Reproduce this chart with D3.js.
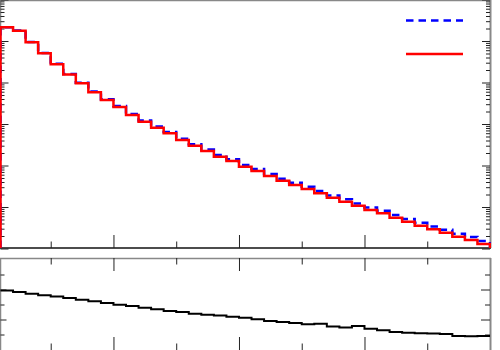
<!DOCTYPE html>
<html>
<head>
<meta charset="utf-8">
<script src="https://cdn.jsdelivr.net/npm/d3@7"></script>
<style>
  body { margin: 0; background: #fff; }
  svg { display: block; }
</style>
</head>
<body>
<div id="chart"></div>
<script>
// bin contents, 39 bins
const redCounts = [214000, 177000, 93100, 50600, 27500, 15600, 9570, 5800, 3790, 2570,
  1650, 1136, 815, 597, 411, 300, 223, 163, 128, 93.5,
  73.7, 55.8, 43.0, 33.9, 27.1, 21.4, 16.7, 13.4, 10.7, 8.47,
  7.05, 5.52, 4.42, 3.54, 2.90, 2.40, 1.92, 1.60, 1.28]
const blueCounts = [215000, 178400, 94400, 51600, 28150, 16050, 9900, 6035, 3970, 2710,
  1746, 1210, 873, 643, 444, 326, 243, 178.5, 140.8, 103.2,
  81.8, 62.3, 48.2, 38.2, 30.7, 24.2, 19.0, 15.3, 12.2, 9.75,
  8.16, 6.43, 5.16, 4.15, 3.40, 2.82, 2.27, 1.90, 1.51]
const ratio = [0.997, 0.992, 0.986, 0.981, 0.977, 0.972, 0.966, 0.961, 0.955, 0.949,
  0.945, 0.939, 0.934, 0.928, 0.925, 0.919, 0.916, 0.913, 0.909, 0.906,
  0.901, 0.895, 0.892, 0.888, 0.884, 0.886, 0.877, 0.873, 0.878, 0.869,
  0.864, 0.858, 0.856, 0.854, 0.853, 0.852, 0.845, 0.844, 0.845]
const xMajor = [9, 19, 29]
const xMinor = [4, 14, 24, 34]
const yDecades = [1, 10, 100, 1000, 10000, 100000, 1000000]
const rMajor = [0.9, 1.0]
const rMinor = [0.85, 0.95, 1.05]

const W = 500, H = 350
const svg = d3.select('#chart').append('svg').attr('width', W).attr('height', H)

const x = d3.scaleLinear().domain([0, 39]).range([0.5, 490])
const y = d3.scaleLog().domain([1, 1e6]).range([248.5, -0.5])
const yr = d3.scaleLinear().domain([0.8, 1.1]).range([349.5, 259.5])

const topB = 248, botT = 258, botB = 350, xL = 0.5, xR = 490

// minor log ticks 2..9
const yMinor = []
for (let d = 1; d < 1e6; d *= 10) {
  for (let k = 2; k <= 9; k++) yMinor.push(d * k)
}

svg.append('defs').append('clipPath').attr('id', 'clipTop')
  .append('rect').attr('x', 0).attr('y', 0).attr('width', xR + 1).attr('height', topB + 1)
svg.select('defs').append('clipPath').attr('id', 'clipBot')
  .append('rect').attr('x', 0).attr('y', botT).attr('width', xR + 1).attr('height', botB - botT)

const tickAxis = (g, axis) => {
  g.call(axis)
  g.select('.domain').remove()
  g.selectAll('text').remove()
  g.selectAll('line').attr('stroke', '#222').attr('stroke-width', 1)
}

// ----- upper pad -----
const upper = svg.append('g')
// frame
upper.append('line').attr('x1', 0).attr('x2', xR).attr('y1', 0.5).attr('y2', 0.5).attr('stroke', '#888').attr('stroke-width', 1.5)
upper.append('line').attr('x1', xR + 0.5).attr('x2', xR + 0.5).attr('y1', 0).attr('y2', topB).attr('stroke', '#888').attr('stroke-width', 2)
upper.append('line').attr('x1', xL).attr('x2', xL).attr('y1', 0).attr('y2', topB).attr('stroke', '#888').attr('stroke-width', 1.5)
upper.append('line').attr('x1', 0).attr('x2', xR + 1).attr('y1', topB).attr('y2', topB).attr('stroke', '#111').attr('stroke-width', 1.5)

// y ticks
tickAxis(upper.append('g').attr('transform', `translate(${xL},0)`), d3.axisRight(y).tickValues(yDecades).tickSize(8))
tickAxis(upper.append('g').attr('transform', `translate(${xL},0)`), d3.axisRight(y).tickValues(yMinor).tickSize(4))
tickAxis(upper.append('g').attr('transform', `translate(${xR},0)`), d3.axisLeft(y).tickValues(yDecades).tickSize(8))
tickAxis(upper.append('g').attr('transform', `translate(${xR},0)`), d3.axisLeft(y).tickValues(yMinor).tickSize(4))
// x ticks
tickAxis(upper.append('g').attr('transform', `translate(0,${topB})`), d3.axisTop(x).tickValues(xMajor).tickSize(13))
tickAxis(upper.append('g').attr('transform', `translate(0,${topB})`), d3.axisTop(x).tickValues(xMinor).tickSize(6.5))

const stepPath = (vals, sc, base) => {
  let p = base != null ? `M${x(0)},${base}L${x(0)},${sc(vals[0])}` : `M${x(0)},${sc(vals[0])}`
  vals.forEach((v, i) => {
    if (i > 0) p += `L${x(i)},${sc(v)}`
    p += `L${x(i + 1)},${sc(v)}`
  })
  if (base != null) p += `L${x(vals.length)},${base}`
  return p
}

const hists = upper.append('g').attr('clip-path', 'url(#clipTop)')
hists.append('path').attr('d', stepPath(blueCounts, y, topB))
  .attr('fill', 'none').attr('stroke', '#0000ff').attr('stroke-width', 2.5)
  .attr('stroke-dasharray', '7.5,5')
hists.append('path').attr('d', stepPath(redCounts, y, topB))
  .attr('fill', 'none').attr('stroke', '#ff0000').attr('stroke-width', 2.5)

// legend (lines only)
const legend = upper.append('g')
legend.append('line').attr('x1', 406).attr('x2', 463).attr('y1', 20.5).attr('y2', 20.5)
  .attr('stroke', '#0000ff').attr('stroke-width', 2.5).attr('stroke-dasharray', '7.5,5')
legend.append('line').attr('x1', 406).attr('x2', 463).attr('y1', 54).attr('y2', 54)
  .attr('stroke', '#ff0000').attr('stroke-width', 2.5)

// ----- lower pad (ratio) -----
const lower = svg.append('g')
lower.append('line').attr('x1', 0).attr('x2', xR + 1).attr('y1', botT + 0.5).attr('y2', botT + 0.5).attr('stroke', '#888').attr('stroke-width', 1.5)
lower.append('line').attr('x1', xR + 0.5).attr('x2', xR + 0.5).attr('y1', botT).attr('y2', botB).attr('stroke', '#888').attr('stroke-width', 2)
lower.append('line').attr('x1', xL).attr('x2', xL).attr('y1', botT).attr('y2', botB).attr('stroke', '#888').attr('stroke-width', 1.5)

tickAxis(lower.append('g').attr('transform', `translate(${xL},0)`), d3.axisRight(yr).tickValues(rMajor).tickSize(6))
tickAxis(lower.append('g').attr('transform', `translate(${xL},0)`), d3.axisRight(yr).tickValues(rMinor).tickSize(4))
tickAxis(lower.append('g').attr('transform', `translate(${xR},0)`), d3.axisLeft(yr).tickValues(rMajor).tickSize(9))
tickAxis(lower.append('g').attr('transform', `translate(${xR},0)`), d3.axisLeft(yr).tickValues(rMinor).tickSize(5))
tickAxis(lower.append('g').attr('transform', `translate(0,${botT})`), d3.axisBottom(x).tickValues(xMajor).tickSize(13))
tickAxis(lower.append('g').attr('transform', `translate(0,${botT})`), d3.axisBottom(x).tickValues(xMinor).tickSize(6.5))
tickAxis(lower.append('g').attr('transform', `translate(0,${botB})`), d3.axisTop(x).tickValues(xMajor).tickSize(13))
tickAxis(lower.append('g').attr('transform', `translate(0,${botB})`), d3.axisTop(x).tickValues(xMinor).tickSize(6.5))

lower.append('g').attr('clip-path', 'url(#clipBot)')
  .append('path').attr('d', stepPath(ratio, yr, null))
  .attr('fill', 'none').attr('stroke', '#000').attr('stroke-width', 2)
</script>
</body>
</html>
